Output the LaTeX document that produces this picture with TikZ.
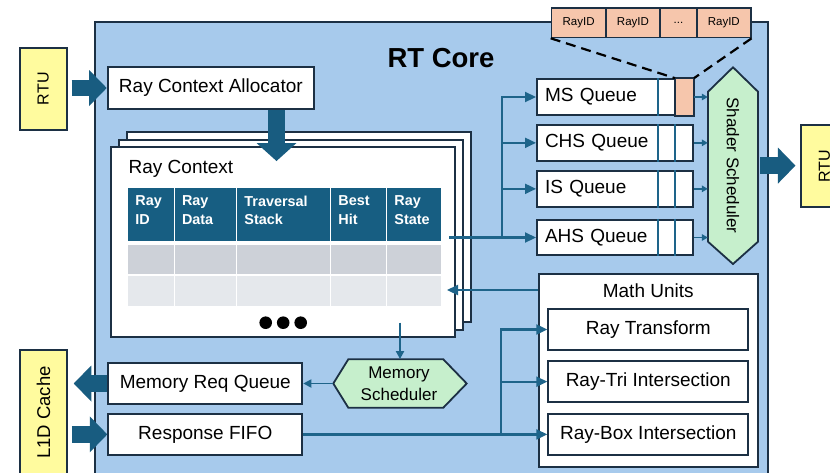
\documentclass[tikz,border=0pt]{standalone}
\usepackage{fontspec}
\usepackage{graphicx}
\setmainfont{Liberation Sans}
\usetikzlibrary{arrows.meta,calc}

\definecolor{corefill}{RGB}{167,202,236}
\definecolor{navy}{RGB}{28,48,68}
\definecolor{arrowteal}{RGB}{24,92,128}
\definecolor{lineblue}{RGB}{30,100,138}
\definecolor{extyellow}{RGB}{255,251,158}
\definecolor{schedgreen}{RGB}{198,239,204}
\definecolor{salmon}{RGB}{246,198,172}
\definecolor{hdrblue}{RGB}{23,94,130}
\definecolor{rowa}{RGB}{205,209,216}
\definecolor{rowb}{RGB}{229,232,236}

\newcommand\lblfont{\fontsize{19}{22}\selectfont}

\begin{document}
\begin{tikzpicture}[x=1pt,y=-1pt,
  blk/.style={draw=navy, line width=2pt, fill=white, inner sep=0pt, font=\lblfont},
  extbox/.style={draw=navy, line width=2pt, fill=extyellow, inner sep=0pt, minimum width=47.5pt},
  queue/.style={blk, minimum height=35.7pt, text width=140pt, inner xsep=8pt, align=left},
  unit/.style={blk, minimum width=200pt, minimum height=41pt},
  stack/.style={blk, minimum width=344pt, minimum height=190pt},
  rid/.style={draw=navy, line width=1.6pt, fill=salmon, inner sep=0pt, minimum height=29.4pt,
              anchor=north west, font=\fontsize{11.5}{13}\selectfont},
  hexfill/.style={draw=navy, line width=1.8pt, fill=schedgreen},
  blockarrow/.style={draw=arrowteal, line width=16.5pt, -{Triangle[length=17.5pt,width=36pt,line width=0pt]}},
  downarrow/.style={draw=arrowteal, line width=17.5pt, -{Triangle[length=18pt,width=40pt,line width=0pt]}},
  conn/.style={draw=lineblue, line width=2.2pt, -{Triangle[length=11pt,width=10pt]}},
  mconn/.style={draw=lineblue, line width=1.8pt, -{Triangle[length=8pt,width=8pt]}},
  sconn/.style={draw=lineblue, line width=1.6pt, -{Triangle[length=6pt,width=6.5pt]}},
  hdrtext/.style={anchor=north west, align=left, text=white, inner xsep=7.5pt, inner ysep=0pt,
                  font=\bfseries\fontsize{14.4}{18.6}\selectfont},
]
\useasboundingbox (0,0) rectangle (830,472);

% RT core enclosure
\node[draw=navy, line width=2pt, fill=corefill, minimum width=673pt, minimum height=470pt,
      anchor=north west, inner sep=0pt] (core) at (94,21) {};
\node[font=\bfseries\fontsize{27.5}{30}\selectfont] (title) at (441,58.5) {RT Core};

% external units
\node[extbox, minimum height=82pt, font=\fontsize{16}{18}\selectfont] (rtuL) at (43.3,88.7) {\rotatebox{90}{RTU}};
\node[extbox, minimum height=81.7pt, font=\fontsize{16}{18}\selectfont] (rtuR) at (824.5,166) {\rotatebox{90}{RTU}};
\node[extbox, minimum height=125pt, font=\fontsize{18.5}{20}\selectfont] (l1d) at (43.5,412.5) {\rotatebox{90}{L1D Cache}};

% allocator
\node[blk, minimum width=206.3pt, minimum height=42pt] (alloc) at (210.85,88) {Ray Context Allocator};

% ray context stack
\node[stack] (ctx3) at (299,227) {};
\node[stack] (ctx2) at (291,234.5) {};
\node[stack] (ctx) at (283,242) {};
\node[anchor=west, font=\lblfont, inner sep=0pt] (ctxlbl) at (128.5,169) {Ray Context};

\foreach \a/\b in {127.7/174.3,174.3/236.7,236.7/330.7,330.7/386.7,386.7/441.7}{
  \draw[white, line width=1.3pt, fill=hdrblue] (\a,187) rectangle (\b,241.5);
  \draw[white, line width=1.3pt, fill=rowa] (\a,244.5) rectangle (\b,275);
  \draw[white, line width=1.3pt, fill=rowb] (\a,275) rectangle (\b,307);
}
\foreach \a/\t [count=\i] in {127.7/{Ray\\ID}, 174.3/{Ray\\Data}, 236.7/{Traversal\\Stack},
                              330.7/{Best\\Hit}, 386.7/{Ray\\State}}
  \node[hdrtext] (hd\i) at (\a,195.5) {\t};
\foreach \x in {265.7,283.2,300.7}
  \fill[black] (\x,322.7) circle (6.3);

% allocator feeds the context
\coordinate (dtip) at (276.5,161);
\draw[downarrow] (dtip |- alloc.south) -- (dtip);
\draw[blockarrow] ([xshift=3.5pt]rtuL.east |- alloc.west) -- (alloc.west);

% shader queues
\node[queue] (msq) at (615,97) {MS Queue};
\node[queue] (chsq) at (615,142.85) {CHS Queue};
\node[queue] (isq) at (615,188.85) {IS Queue};
\node[queue] (ahsq) at (615,237.5) {AHS Queue};
\foreach \q in {msq,chsq,isq,ahsq}
  \draw[lineblue, line width=1.6pt] ([xshift=122pt]\q.north west) -- ([xshift=122pt]\q.south west);
\foreach \q in {chsq,isq,ahsq}
  \draw[lineblue, line width=1.6pt] ([xshift=139pt]\q.north west) -- ([xshift=139pt]\q.south west);
\coordinate (slot) at ([xshift=139pt]msq.north west);
\draw[navy, line width=2pt, fill=salmon] (slot) rectangle (msq.south east);

% queue entry detail
\node[rid, minimum width=54.3pt] (rid1) at (550.7,7.3) {RayID};
\node[rid, minimum width=54.3pt] (rid2) at (605,7.3) {RayID};
\node[rid, minimum width=36.7pt] (rid3) at (659.3,7.3) {...};
\node[rid, minimum width=54pt] (rid4) at (696,7.3) {RayID};
\draw[black, line width=2.2pt, dash pattern=on 10pt off 6pt] (rid1.south west) -- (slot);
\draw[black, line width=2.2pt, dash pattern=on 10pt off 6pt] (rid4.south east) -- (msq.north east);

% shader scheduler
\draw[hexfill] (733,67.3) -- (758,91.7) -- (758,241.7) -- (733,264) -- (708,241.7) -- (708,91.7) -- cycle;
\node[minimum width=50pt, minimum height=150pt, inner sep=0pt, font=\fontsize{17}{19}\selectfont]
  (sched) at (733,165.6) {\rotatebox{-90}{Shader Scheduler}};
\foreach \q in {msq,chsq,isq,ahsq}
  \draw[sconn] (\q.east) -- (\q.east -| sched.west);
\draw[blockarrow] ([xshift=2pt]sched.east) -- ([xshift=-4.3pt]rtuR.west |- sched.east);

% context to queues
\coordinate (rcout) at (449,237.5);
\coordinate (qtrunk) at (501.7,237.5);
\draw[conn] (rcout) -- (ahsq.west);
\draw[conn] (qtrunk) |- (msq.west);
\draw[conn] (qtrunk |- chsq.west) -- (chsq.west);
\draw[conn] (qtrunk |- isq.west) -- (isq.west);

% math units
\node[blk, minimum width=219.5pt, minimum height=193pt] (math) at (648.25,370.5) {};
\node[font=\lblfont] (mathlbl) at (648.25,291) {Math Units};
\node[unit] (rt) at (648.3,329.5) {Ray Transform};
\node[unit] (rti) at (648.3,381.65) {Ray-Tri Intersection};
\node[unit] (rbx) at (648.3,434.4) {Ray-Box Intersection};
\coordinate (rcin) at (447,290);
\draw[conn] (rcin -| math.west) -- (rcin);

% memory path
\node[blk, minimum width=194pt, minimum height=41.7pt] (memreq) at (205.3,383.5) {Memory Req Queue};
\node[blk, minimum width=194pt, minimum height=41.3pt] (fifo) at (205.3,434.4) {Response FIFO};
\draw[hexfill] (333.3,383.5) -- (348.3,359.3) -- (443.3,359.3) -- (466.7,383.5) -- (443.3,407.7) -- (348.3,407.7) -- cycle;
\node[minimum width=95pt, minimum height=48.4pt, inner sep=0pt, align=center,
      font=\fontsize{17}{21.6}\selectfont] (memsched) at (399,383.5) {Memory\\Scheduler};
\coordinate (rcmem) at (400,322.7);
\coordinate (mstip) at (333.3,383.5);
\draw[mconn] (rcmem) -- (rcmem |- memsched.north);
\draw[mconn] (mstip) -- (mstip -| memreq.east);
\draw[blockarrow] (memreq.west) -- ([xshift=5.5pt]l1d.east |- memreq.west);
\draw[blockarrow] ([xshift=3.5pt]l1d.east |- fifo.west) -- (fifo.west);

% response data to math units
\coordinate (mtrunk) at (500.7,434.4);
\draw[conn] (fifo.east) -- (rbx.west);
\draw[conn] (mtrunk) |- (rt.west);
\draw[conn] (mtrunk |- rti.west) -- (rti.west);
\end{tikzpicture}
\end{document}
